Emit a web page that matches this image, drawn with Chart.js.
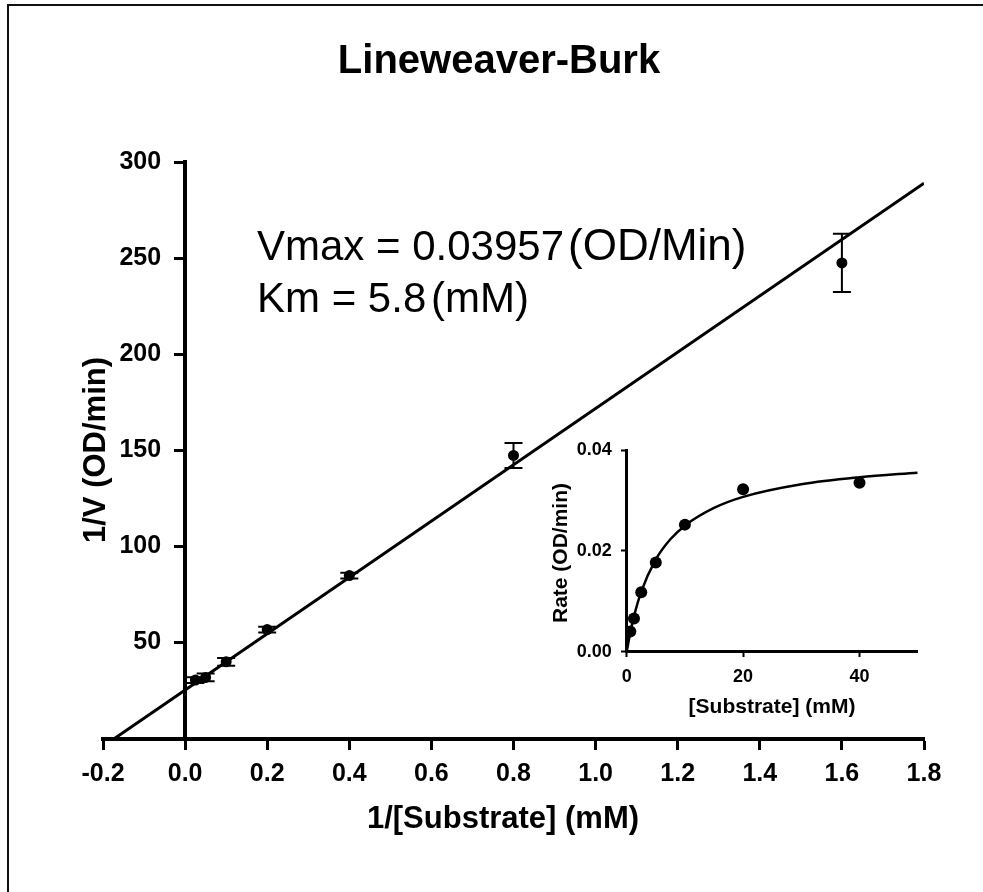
<!DOCTYPE html>
<html>
<head>
<meta charset="utf-8">
<script src="https://cdn.jsdelivr.net/npm/chart.js@4.4.1/dist/chart.umd.min.js"></script>
<style>
  html, body { margin: 0; padding: 0; background: #fff; }
  #wrap { position: relative; width: 983px; height: 892px; overflow: hidden; background: #fff; }
  #frame { position: absolute; left: 7px; top: 4px; width: 1200px; height: 1200px; border: 2px solid #111; box-sizing: border-box; }
  #main { position: absolute; left: 0; top: 0; }
  #inset { position: absolute; left: 540px; top: 430px; }
</style>
</head>
<body>
<div id="wrap">
  <div id="frame"></div>
  <canvas id="main" width="983" height="892"></canvas>
  <canvas id="inset" width="390" height="300"></canvas>
</div>
<script>
// ---------------- data ----------------
const substrateMM   = [0.625, 1.25, 2.5, 5, 10, 20, 40];          // [S], mM
const invSubstrate  = [1.6, 0.8, 0.4, 0.2, 0.1, 0.05, 0.025];      // 1/[S]
const invRate       = [247.5, 147.3, 84.8, 56.7, 39.9, 31.8, 30.4];// 1/V
const invRateErr    = [15.2, 6.5, 1.5, 1.5, 2.0, 2.0, 1.5];        // +/- error on 1/V
const rate          = [0.0040, 0.0066, 0.0118, 0.0177, 0.0252, 0.0322, 0.0335]; // V
const fitLineX      = [-0.172, 1.8];
const fitLineY      = [0, 289];
const curveX        = [0, 0.625, 1.25, 2.5, 5, 7.5, 10, 15, 20, 30, 40, 50];
const curveY        = [0, 0.00385, 0.0070, 0.0119, 0.0183, 0.0223, 0.0250, 0.0285, 0.0307, 0.0332, 0.0346, 0.0355];

const mainXTicks      = [-0.2, 0, 0.2, 0.4, 0.6, 0.8, 1.0, 1.2, 1.4, 1.6, 1.8];
const mainXTickLabels = ['-0.2', '0.0', '0.2', '0.4', '0.6', '0.8', '1.0', '1.2', '1.4', '1.6', '1.8'];
const mainYTicks      = [0, 50, 100, 150, 200, 250, 300];
const mainYTickLabels = ['', '50', '100', '150', '200', '250', '300'];
const insetXTicks      = [0, 20, 40];
const insetXTickLabels = ['0', '20', '40'];
const insetYTicks      = [0, 0.02, 0.04];
const insetYTickLabels = ['0.00', '0.02', '0.04'];

const chartTitle   = 'Lineweaver-Burk';
const mainXTitle   = '1/[Substrate] (mM)';
const mainYTitle   = '1/V (OD/min)';
const insetXTitle  = '[Substrate] (mM)';
const insetYTitle  = 'Rate (OD/min)';
const vmaxText = ['Vmax = 0.03957', '(OD/Min)'];
const kmText   = ['Km = 5.8', '(mM)'];

const FONT = '"Liberation Sans", Arial, Helvetica, sans-serif';

// ---------------- plugins ----------------
// y-axis positioned at x = 0 : put its labels left of the tick marks
const yLabelShift = {
  id: 'yLabelShift',
  beforeDraw(chart, args, opts) {
    const s = chart.scales.y;
    const xPix = chart.scales.x.getPixelForValue(0);
    const items = s.getLabelItems();
    items.forEach(it => {
      it.options.translation[0] = xPix - opts.offset;
      it.options.textAlign = 'right';
    });
  }
};

const errorBars = {
  id: 'errorBars',
  afterDatasetsDraw(chart, args, opts) {
    if (!opts.values) return;
    const ctx = chart.ctx, xs = chart.scales.x, ys = chart.scales.y;
    ctx.save();
    ctx.strokeStyle = '#000';
    ctx.lineWidth = opts.lineWidth;
    opts.xs.forEach((xv, i) => {
      const e = opts.values[i];
      const px = xs.getPixelForValue(xv);
      const pTop = ys.getPixelForValue(opts.ys[i] + e);
      const pBot = ys.getPixelForValue(opts.ys[i] - e);
      ctx.beginPath();
      ctx.moveTo(px, pTop); ctx.lineTo(px, pBot);
      ctx.moveTo(px - opts.cap, pTop); ctx.lineTo(px + opts.cap, pTop);
      ctx.moveTo(px - opts.cap, pBot); ctx.lineTo(px + opts.cap, pBot);
      ctx.stroke();
    });
    ctx.restore();
  }
};

const texts = {
  id: 'texts',
  afterDraw(chart, args, opts) {
    const ctx = chart.ctx;
    ctx.save();
    ctx.fillStyle = '#000';
    (opts.items || []).forEach(t => {
      ctx.save();
      ctx.font = t.font;
      ctx.textAlign = t.align || 'center';
      ctx.textBaseline = t.baseline || 'middle';
      ctx.translate(t.x, t.y);
      if (t.rot) ctx.rotate(t.rot);
      ctx.fillText(t.text, 0, 0);
      ctx.restore();
    });
    ctx.restore();
  }
};

function axisScale(min, max, ticks, labels, posObj, o) {
  return {
    type: 'linear',
    position: posObj,
    min: min, max: max,
    afterBuildTicks: (sc) => { sc.ticks = ticks.map(v => ({ value: v })); },
    border: { display: true, color: '#000', width: o.border },
    grid: { display: true, drawOnChartArea: false, drawTicks: true,
            tickLength: o.tickLen, tickWidth: o.tickWidth, tickColor: '#000', color: '#000' },
    ticks: { autoSkip: false, maxRotation: 0, minRotation: 0, padding: o.pad,
             color: '#000', font: { family: FONT, size: o.font, weight: 'bold' },
             callback: (v, i) => labels[i] }
  };
}

// ---------------- main Lineweaver-Burk chart ----------------
new Chart(document.getElementById('main'), {
  type: 'scatter',
  data: {
    datasets: [
      {
        data: fitLineX.map((x, i) => ({ x: x, y: fitLineY[i] })),
        showLine: true, borderColor: '#000', borderWidth: 3, pointRadius: 0, fill: false
      },
      {
        data: invSubstrate.map((x, i) => ({ x: x, y: invRate[i] })),
        showLine: false, pointRadius: 5.5, pointBackgroundColor: '#000',
        pointBorderColor: '#000', pointBorderWidth: 0
      }
    ]
  },
  options: {
    responsive: false, animation: false, devicePixelRatio: 1,
    layout: { padding: { left: 103, right: 59, top: 162, bottom: 153.5 } },
    plugins: {
      legend: { display: false }, tooltip: { enabled: false }, title: { display: false },
      yLabelShift: { offset: 24 },
      errorBars: { xs: invSubstrate, ys: invRate, values: invRateErr, cap: 9, lineWidth: 2 },
      texts: { items: [
        { text: chartTitle, x: 499, y: 62, font: 'bold 40px ' + FONT },
        { text: mainXTitle, x: 503, y: 819, font: 'bold 31px ' + FONT },
        { text: mainYTitle, x: 96, y: 450, rot: -Math.PI / 2, font: 'bold 31px ' + FONT },
        { text: vmaxText[0], x: 257, y: 260, align: 'left', baseline: 'alphabetic', font: '42px ' + FONT },
        { text: vmaxText[1], x: 568, y: 260, align: 'left', baseline: 'alphabetic', font: '44px ' + FONT },
        { text: kmText[0], x: 257, y: 312, align: 'left', baseline: 'alphabetic', font: '42px ' + FONT },
        { text: kmText[1], x: 431, y: 312, align: 'left', baseline: 'alphabetic', font: '42px ' + FONT }
      ] }
    },
    scales: {
      x: axisScale(-0.2, 1.8, mainXTicks, mainXTickLabels, { y: 0 }, { border: 4, tickLen: 9, tickWidth: 3, pad: 12, font: 25 }),
      y: axisScale(0, 300, mainYTicks, mainYTickLabels, { x: 0 }, { border: 4, tickLen: 9, tickWidth: 3, pad: 11, font: 25 })
    }
  },
  plugins: [yLabelShift, errorBars, texts]
});

// ---------------- inset Michaelis-Menten chart ----------------
new Chart(document.getElementById('inset'), {
  type: 'scatter',
  data: {
    datasets: [
      {
        data: curveX.map((x, i) => ({ x: x, y: curveY[i] })),
        showLine: true, borderColor: '#000', borderWidth: 2.5, pointRadius: 0,
        cubicInterpolationMode: 'monotone', fill: false
      },
      {
        data: substrateMM.map((x, i) => ({ x: x, y: rate[i] })),
        showLine: false, pointRadius: 6, pointBackgroundColor: '#000',
        pointBorderColor: '#000', pointBorderWidth: 0
      }
    ]
  },
  options: {
    responsive: false, animation: false, devicePixelRatio: 1,
    layout: { padding: { left: 86.7, right: 12.3, top: 20, bottom: 78.3 } },
    plugins: {
      legend: { display: false }, tooltip: { enabled: false }, title: { display: false },
      yLabelShift: { offset: 15 },
      texts: { items: [
        { text: insetXTitle, x: 232, y: 277, font: 'bold 21px ' + FONT },
        { text: insetYTitle, x: 21, y: 123, rot: -Math.PI / 2, font: 'bold 21px ' + FONT }
      ] }
    },
    scales: {
      x: axisScale(0, 50, insetXTicks, insetXTickLabels, { y: 0 }, { border: 3, tickLen: 4, tickWidth: 2, pad: 11, font: 18 }),
      y: axisScale(0, 0.04, insetYTicks, insetYTickLabels, { x: 0 }, { border: 3, tickLen: 4, tickWidth: 2, pad: 8, font: 18 })
    }
  },
  plugins: [yLabelShift, texts]
});
</script>
</body>
</html>
